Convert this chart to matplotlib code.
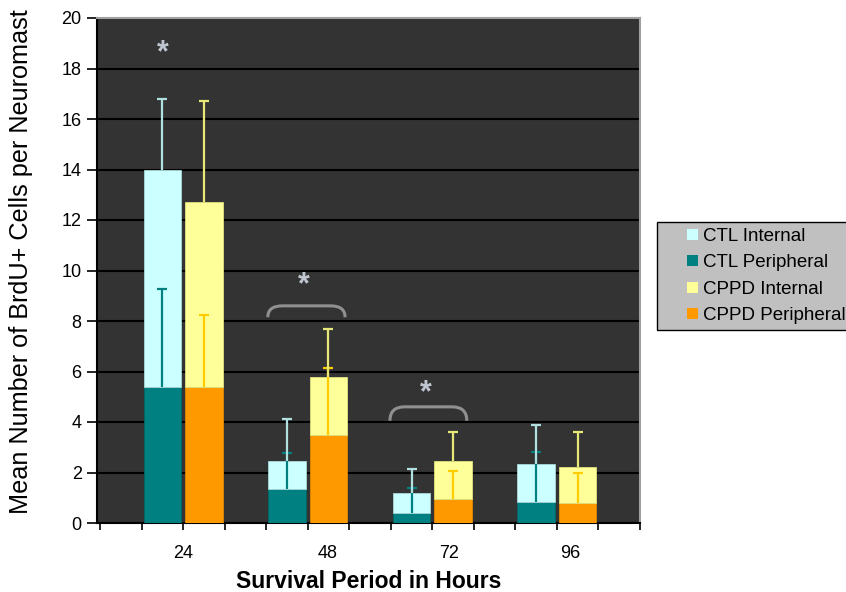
import matplotlib
matplotlib.use("Agg")
import matplotlib.pyplot as plt
import numpy as np
from matplotlib.path import Path
from matplotlib.patches import PathPatch, Patch, Rectangle
from matplotlib.legend_handler import HandlerPatch

plt.rcParams['font.family'] = ['Liberation Sans', 'DejaVu Sans']

# ---- data ----
hours = ["24", "48", "72", "96"]
ctl_peripheral = [5.4, 1.35, 0.4, 0.85]
ctl_internal = [8.6, 1.12, 0.8, 1.47]
ctl_internal_err = [2.8, 1.63, 0.93, 1.55]
ctl_peripheral_err = [3.85, 1.41, 1.0, 1.98]
cppd_peripheral = [5.4, 3.5, 0.95, 0.8]
cppd_internal = [7.3, 2.3, 1.52, 1.43]
cppd_internal_err = [4.0, 1.87, 1.15, 1.36]
cppd_peripheral_err = [2.82, 2.65, 1.1, 1.18]

# slot positions (13 category slots, two bars per group, blank between)
ctl_slots = [1, 4, 7, 10]
cppd_slots = [2, 5, 8, 11]
label_pos = [1.99, 5.47, 8.4, 11.33]

# significance marks
star_x = [1.52, 4.91, 7.85]
star_y = [18.6, 9.4, 5.15]
bracket_x0 = [4.04, 6.98]
bracket_x1 = [5.9, 8.83]
bracket_top = [8.6, 4.6]
bracket_end = [8.15, 4.05]

col_ctl_int = '#CCFFFF'
col_ctl_per = '#008080'
col_cppd_int = '#FFFF99'
col_cppd_per = '#FF9900'

W, H = 846, 592
fig = plt.figure(figsize=(W / 100, H / 100), dpi=100)
ax = fig.add_axes([97 / W, (H - 523) / H, 543 / W, 505 / H])
ax.set_facecolor('#333333')

xc = np.array(ctl_slots) + 0.5
xp = np.array(cppd_slots) + 0.5
bw = 0.9

ctl_tot = np.array(ctl_peripheral) + np.array(ctl_internal)
cppd_tot = np.array(cppd_peripheral) + np.array(cppd_internal)

ax.bar(xc, ctl_peripheral, width=bw, color=col_ctl_per, edgecolor='#006666', linewidth=0.6, zorder=3)
ax.bar(xc, ctl_internal, bottom=ctl_peripheral, width=bw, color=col_ctl_int, edgecolor='#a8d8d8', linewidth=0.6, zorder=3)
ax.bar(xp, cppd_peripheral, width=bw, color=col_cppd_per, edgecolor='#e08800', linewidth=0.6, zorder=3)
ax.bar(xp, cppd_internal, bottom=cppd_peripheral, width=bw, color=col_cppd_int, edgecolor='#e0e080', linewidth=0.6, zorder=3)

ekw = dict(fmt='none', capsize=3.5, elinewidth=1.6, capthick=1.6)


def upper_err(x, y, e, color, z):
    cont = ax.errorbar(x, y, yerr=[np.zeros(len(e)), e], ecolor=color, zorder=z, **ekw)
    caps = cont.lines[1]
    if len(caps) > 1:
        caps[0].set_visible(False)


upper_err(xc, ctl_peripheral, ctl_peripheral_err, '#008080', 4)
upper_err(xp, cppd_peripheral, cppd_peripheral_err, '#FFCC00', 4)
upper_err(xc, ctl_tot, ctl_internal_err, '#b0e0e0', 5)
upper_err(xp, cppd_tot, cppd_internal_err, '#e8e878', 5)

for sx, sy in zip(star_x, star_y):
    ax.text(sx, sy, '*', ha='center', va='center', fontsize=22, fontweight='bold',
            color='#c0c6d0', zorder=6)

for x0, x1, yt, ye in zip(bracket_x0, bracket_x1, bracket_top, bracket_end):
    r = 0.35
    verts = [(x0, ye), (x0, yt), (x0 + r, yt), (x1 - r, yt), (x1, yt), (x1, ye)]
    codes = [Path.MOVETO, Path.CURVE3, Path.CURVE3, Path.LINETO, Path.CURVE3, Path.CURVE3]
    ax.add_patch(PathPatch(Path(verts, codes), fill=False, edgecolor='#909090', linewidth=2.2, zorder=6))

ax.set_xlim(-0.072, 13)
ax.set_ylim(0, 20)
ax.set_yticks(np.arange(0, 21, 2))
ax.yaxis.grid(True, color='black', linewidth=1.5, zorder=1)
ax.set_axisbelow(True)
ax.tick_params(axis='y', direction='out', length=7, width=1.2, pad=4, labelsize=13)

ax.set_xticks(label_pos)
ax.set_xticklabels(hours, fontsize=13)
ax.tick_params(axis='x', which='major', length=0, pad=16)
ax.set_xticks(np.arange(0, 14), minor=True)
ax.tick_params(axis='x', which='minor', direction='out', length=5, width=1.2)

for s in ['left', 'bottom']:
    ax.spines[s].set_color('black')
    ax.spines[s].set_linewidth(1.5)
for s in ['top', 'right']:
    ax.spines[s].set_color('#a0a0a0')
    ax.spines[s].set_linewidth(1.5)

ax.set_ylabel('Mean Number of BrdU+ Cells per Neuromast', fontsize=18.2)
ax.yaxis.set_label_coords(-64 / 543, 0.517)
ax.set_xlabel('Survival Period in Hours', fontsize=16.5, fontweight='bold')
ax.xaxis.set_label_coords(0.5, -47 / 505)


def small_square(legend, orig_handle, xdescent, ydescent, width, height, fontsize):
    s = 8.0
    return Rectangle((-xdescent + width - s, -ydescent + (height - s) / 2), s, s)


handles = [Patch(facecolor=col_ctl_int, edgecolor='none'),
           Patch(facecolor=col_ctl_per, edgecolor='none'),
           Patch(facecolor=col_cppd_int, edgecolor='none'),
           Patch(facecolor=col_cppd_per, edgecolor='none')]
labels = ['CTL Internal', 'CTL Peripheral', 'CPPD Internal', 'CPPD Peripheral']
leg = fig.legend(handles, labels, loc='upper left', bbox_to_anchor=(657 / W, 1 - 222 / H),
                 fontsize=13.5, frameon=True, fancybox=False, facecolor='#c0c0c0', edgecolor='black',
                 handlelength=1.9, handleheight=0.7, handletextpad=0.25, labelspacing=0.5,
                 borderpad=0.3, borderaxespad=0,
                 handler_map={Patch: HandlerPatch(patch_func=small_square)})
leg.get_frame().set_linewidth(1.0)
leg.get_frame().set_alpha(1)

fig.savefig('out.png', dpi=100)
